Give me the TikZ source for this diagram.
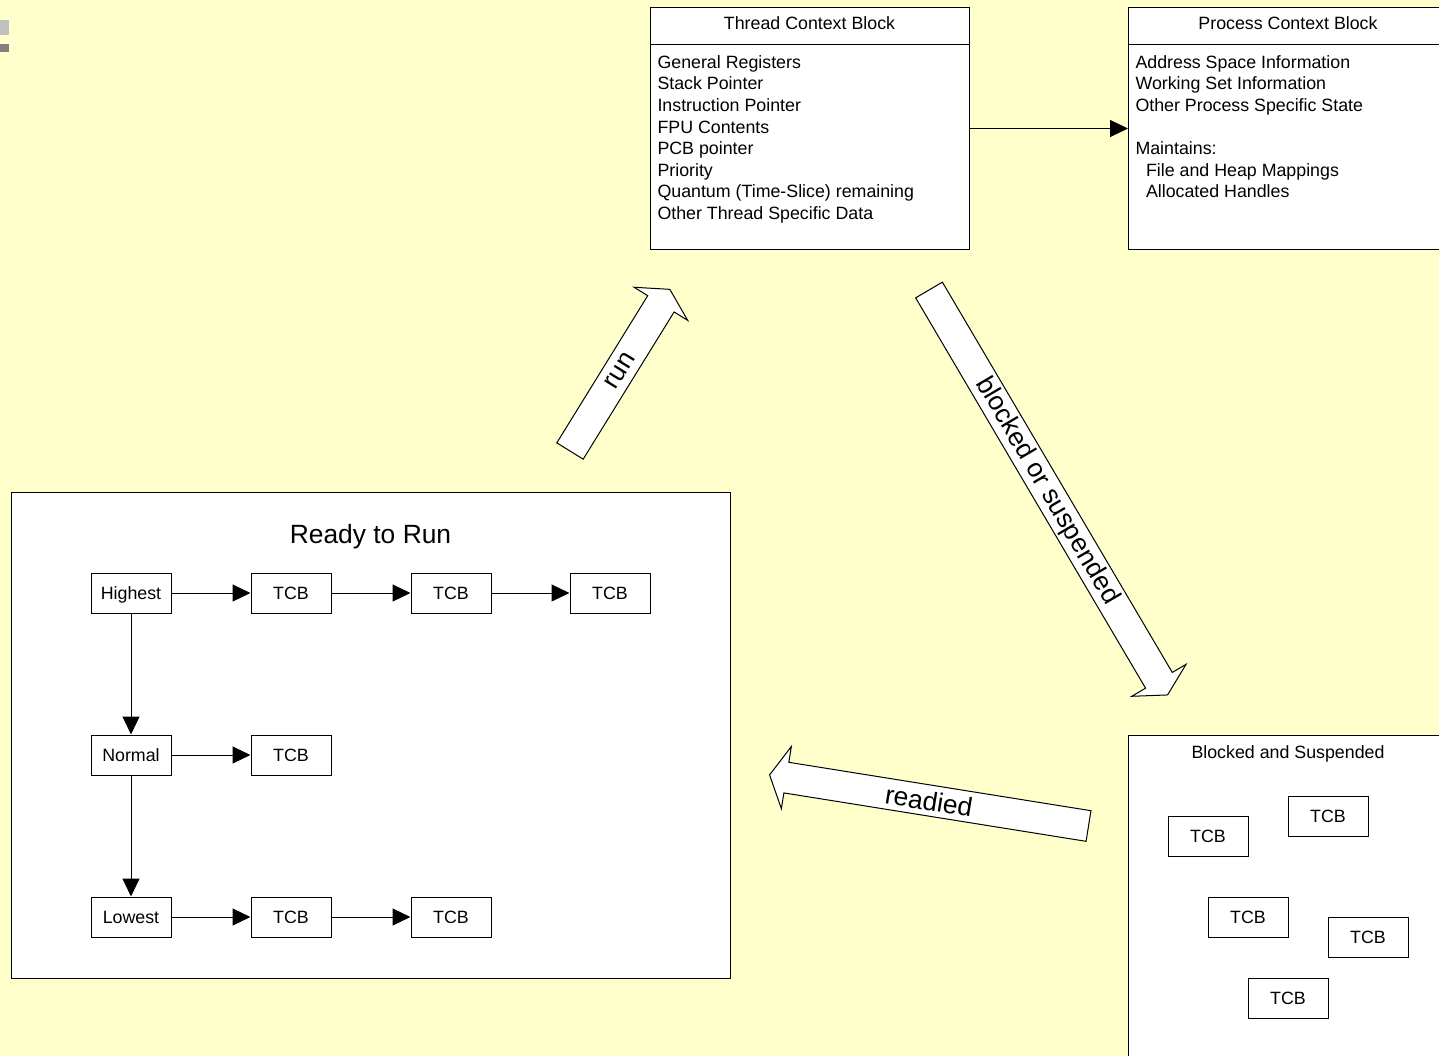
\documentclass[tikz,border=0pt]{standalone}
\usepackage{fontspec}
\setmainfont{Liberation Sans}
\usetikzlibrary{arrows.meta}
\definecolor{bgyellow}{HTML}{FFFFCC}
\definecolor{lightmark}{HTML}{C0C0C0}
\definecolor{darkmark}{HTML}{808080}
\newcommand\fsn{\fontsize{17.8}{21.6}\selectfont}
\newcommand\fsb{\fontsize{26.4}{31}\selectfont}
\newcommand\blockarrow[4]{%
  \begin{scope}[shift={(#1,#2)}, rotate=#3]
    \draw[fill=white, line join=miter] (0,-15.5) -- (#4-17,-15.5) -- (#4-17,-31.5) -- (#4,0)
      -- (#4-17,31.5) -- (#4-17,15.5) -- (0,15.5) -- cycle;
  \end{scope}}
\begin{document}
\begin{tikzpicture}[x=1pt, y=-1pt, line width=1pt,
  frame/.style={draw, fill=white, inner sep=0pt, anchor=north west},
  tbox/.style={draw, fill=white, minimum width=80pt, minimum height=40pt,
    inner sep=0pt, font=\fsn, text height=12.7pt, text depth=0pt},
  title/.style={font=\fsn, anchor=base, inner sep=0pt},
  bigtitle/.style={font=\fsb, anchor=base, inner sep=0pt},
  listtext/.style={font=\fsn, anchor=north west, align=left, inner sep=0pt},
  link/.style={-{Triangle[length=18pt,width=17pt]}},
  arrowtext/.style={font=\fsb, inner sep=0pt}]
\useasboundingbox (0,0) rectangle (1439,1056);
\fill[bgyellow] (0,0) rectangle (1439,1056);
\clip (0,0) rectangle (1439,1056);

% corner marks
\fill[lightmark] (0,20) rectangle (9,35.5);
\fill[darkmark] (0,44) rectangle (9,52);

% Thread Context Block
\node[frame, minimum width=319pt, minimum height=242pt] (tcb) at (650,7) {};
\draw ([yshift=-38pt]tcb.north west) -- ([yshift=-38pt]tcb.north east);
\node[title] (tcbT) at (809.5,30) {Thread Context Block};
\node[listtext] (tcbL) at (657,55) {General Registers\\Stack Pointer\\Instruction Pointer\\FPU Contents\\PCB pointer\\Priority\\Quantum (Time-Slice) remaining\\Other Thread Specific Data};

% Process Context Block
\node[frame, minimum width=320pt, minimum height=242pt] (pcb) at (1128,7) {};
\draw ([yshift=-38pt]pcb.north west) -- ([yshift=-38pt]pcb.north east);
\node[title] (pcbT) at (1288,30) {Process Context Block};
\node[listtext] (pcbL) at (1135,55) {Address Space Information\\Working Set Information\\Other Process Specific State\\[21.6pt]Maintains:\\\hspace*{10.5pt}File and Heap Mappings\\\hspace*{10.5pt}Allocated Handles};

\draw[link] (tcb.east) -- (pcb.west);

% Ready to Run
\node[frame, minimum width=719pt, minimum height=486pt] (ready) at (11,492) {};
\node[bigtitle] (readyT) at (370.5,543) {Ready to Run};

\node[tbox] (hi) at (131,593) {Highest};
\node[tbox] (t11) at (291,593) {TCB};
\node[tbox] (t12) at (451,593) {TCB};
\node[tbox] (t13) at (610,593) {TCB};
\node[tbox] (nor) at (131,755) {Normal};
\node[tbox] (t21) at (291,755) {TCB};
\node[tbox] (low) at (131,917) {Lowest};
\node[tbox] (t31) at (291,917) {TCB};
\node[tbox] (t32) at (451,917) {TCB};

\draw[link] (hi) -- (t11);
\draw[link] (t11) -- (t12);
\draw[link] (t12) -- (t13);
\draw[link] (nor) -- (t21);
\draw[link] (low) -- (t31);
\draw[link] (t31) -- (t32);
\draw[link] (hi) -- (nor);
\draw[link] (nor) -- (low);

% Blocked and Suspended
\node[frame, minimum width=320pt, minimum height=340pt] (blk) at (1128,735) {};
\node[title] (blkT) at (1288,758) {Blocked and Suspended};
\node[tbox] (b1) at (1208,836) {TCB};
\node[tbox] (b2) at (1328,816) {TCB};
\node[tbox] (b3) at (1248,917) {TCB};
\node[tbox] (b4) at (1368,937) {TCB};
\node[tbox] (b5) at (1288,998) {TCB};

% block arrows
\blockarrow{570}{451}{58.3}{190}
\node[arrowtext, rotate=58.3] (runT) at (620,371) {run};
\blockarrow{929}{290}{-59.5}{470}
\node[arrowtext, rotate=-59.5] (blockT) at (1047,491) {blocked or suspended};
\blockarrow{1088.5}{826}{170.9}{323}
\node[arrowtext, rotate=-9.1] (readyArrowT) at (929,801) {readied};
\end{tikzpicture}
\end{document}
